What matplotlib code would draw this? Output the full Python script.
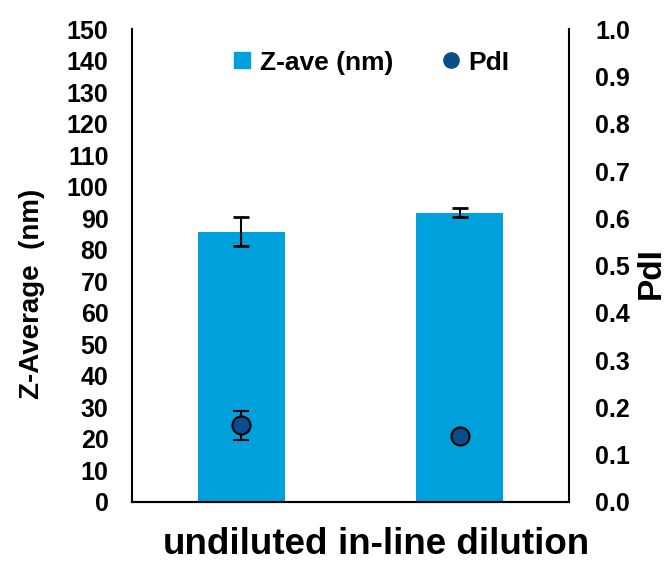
import matplotlib
matplotlib.use("Agg")
import matplotlib.pyplot as plt
import matplotlib.transforms as mtransforms
from matplotlib.lines import Line2D
import numpy as np

# data
categories = ["undiluted", "in-line dilution"]
z_ave = [85.8, 91.8]
z_err = [4.5, 1.5]
pdi = [0.162, 0.139]
pdi_err = [0.031, 0.004]

bar_col = "#00A0DC"
dot_col = "#0B4C8A"

plt.rcParams["font.family"] = ["Liberation Sans", "DejaVu Sans"]
plt.rcParams["font.weight"] = "bold"

fig = plt.figure(figsize=(6.7, 5.62), dpi=100)
ax = fig.add_axes([0.197, 0.107, 0.652, 0.841])
x = np.arange(len(categories))

ax.bar(x, z_ave, width=0.4, color=bar_col, zorder=2)
ax.errorbar(x, z_ave, yerr=z_err, fmt="none", ecolor="black",
            elinewidth=1.5, capsize=5.5, capthick=2, zorder=3)
ax.set_xlim(-0.5, 1.5)
ax.set_ylim(0, 150)
ax.set_yticks(np.arange(0, 151, 10))
ax.set_xticks(x)
ax.set_xticklabels(categories, fontsize=26.5, fontweight="bold")
ax.tick_params(axis="y", length=0, pad=17, labelsize=18)
ax.tick_params(axis="x", length=0, pad=18)
# labels sit a touch right of the bar centres in the reference
shift = mtransforms.ScaledTranslation(4 / 100, 0, fig.dpi_scale_trans)
for lab in ax.get_xticklabels():
    lab.set_transform(lab.get_transform() + shift)
ax.set_ylabel("Z-Average  (nm)", fontsize=20, fontweight="bold")
ax.yaxis.set_label_coords(-0.199, 0.44)

ax2 = ax.twinx()
ax2.errorbar(x, pdi, yerr=pdi_err, fmt="o", color=dot_col, ms=13,
             mec="black", mew=1.5, ecolor="black", elinewidth=1.5,
             capsize=5.5, capthick=2, zorder=4)
ax2.set_ylim(0, 1.0)
ax2.set_yticks(np.arange(0, 1.01, 0.1))
ax2.set_yticklabels([f"{v:.1f}" for v in np.arange(0, 1.01, 0.1)])
ax2.tick_params(axis="y", length=0, pad=19, labelsize=18)
ax2.set_ylabel("PdI", fontsize=24, fontweight="bold")
ax2.yaxis.set_label_coords(1.153, 0.484)

for a in (ax, ax2):
    a.spines["top"].set_visible(False)
    for s in ("left", "right", "bottom"):
        a.spines[s].set_linewidth(1.5)
ax2.spines["left"].set_visible(False)
ax.spines["right"].set_visible(False)

handles = [
    Line2D([], [], marker="s", ls="none", color=bar_col, ms=11),
    Line2D([], [], marker="o", ls="none", color=dot_col, ms=11),
]
ax.legend(handles, ["Z-ave (nm)", "PdI"], loc="upper center", ncol=2,
          frameon=False, fontsize=19, handletextpad=0.05, columnspacing=1.6,
          handlelength=1.2, bbox_to_anchor=(0.54, 1.005))

fig.savefig("out.png", dpi=100)
